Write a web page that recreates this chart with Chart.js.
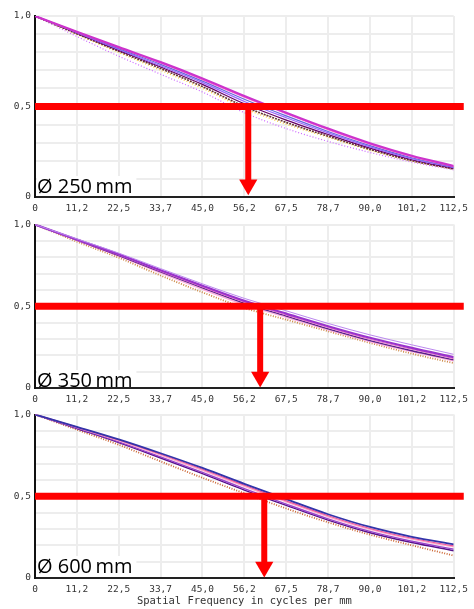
<!DOCTYPE html>
<html lang="en">
<head>
<meta charset="UTF-8">
<title>MTF by mirror diameter</title>
<script src="https://cdn.jsdelivr.net/npm/chart.js"></script>
<style>
    body { margin: 0; background: #fff; }
    .panel { position: absolute; left: 0; width: 474px; }
</style>
</head>
<body>
<div class="panel" style="top:0;height:214px"><canvas id="c250"></canvas></div>
<div class="panel" style="top:214px;height:190px"><canvas id="c350"></canvas></div>
<div class="panel" style="top:404px;height:205px"><canvas id="c600"></canvas></div>
<script>
// spatial frequency (cycles/mm) at the grid lines
var freqs = [0, 11.25, 22.5, 33.75, 45, 56.25, 67.5, 78.75, 90, 101.25, 112.5];
var xTickLabels = ['0', '11,2', '22,5', '33,7', '45,0', '56,2', '67,5', '78,7', '90,0', '101,2', '112,5'];
var yGrid = [0, 0.1, 0.2, 0.3, 0.4, 0.5, 0.6, 0.7, 0.8, 0.9, 1];
var yTickLabels = { '0': '0', '0.5': '0,5', '1': '1,0' };

// MTF, one array per field position
var mtf250 = [
    [1, 0.913, 0.828, 0.745, 0.655, 0.558, 0.466, 0.378, 0.297, 0.228, 0.171],
    [1, 0.912, 0.825, 0.740, 0.648, 0.552, 0.460, 0.372, 0.292, 0.223, 0.168],
    [1, 0.910, 0.820, 0.733, 0.640, 0.540, 0.448, 0.362, 0.284, 0.217, 0.165],
    [1, 0.908, 0.815, 0.725, 0.632, 0.528, 0.438, 0.354, 0.277, 0.212, 0.162],
    [1, 0.905, 0.810, 0.718, 0.622, 0.515, 0.425, 0.345, 0.270, 0.206, 0.158],
    [1, 0.902, 0.805, 0.710, 0.610, 0.500, 0.412, 0.336, 0.263, 0.201, 0.155],
    [1, 0.898, 0.798, 0.700, 0.600, 0.490, 0.402, 0.330, 0.258, 0.198, 0.153],
    [1, 0.887, 0.778, 0.678, 0.580, 0.466, 0.378, 0.307, 0.246, 0.193, 0.150]
];
var mtf350 = [
    [1, 0.912, 0.825, 0.730, 0.637, 0.548, 0.472, 0.395, 0.325, 0.264, 0.206],
    [1, 0.908, 0.818, 0.720, 0.625, 0.533, 0.455, 0.378, 0.307, 0.245, 0.188],
    [1, 0.906, 0.814, 0.715, 0.618, 0.526, 0.447, 0.370, 0.298, 0.237, 0.180],
    [1, 0.904, 0.810, 0.710, 0.612, 0.518, 0.440, 0.362, 0.290, 0.228, 0.172],
    [1, 0.902, 0.806, 0.703, 0.603, 0.510, 0.432, 0.355, 0.284, 0.222, 0.166],
    [1, 0.895, 0.797, 0.688, 0.585, 0.490, 0.418, 0.347, 0.276, 0.210, 0.152]
];
var mtf600 = [
    [1, 0.925, 0.848, 0.763, 0.673, 0.576, 0.482, 0.390, 0.312, 0.252, 0.206],
    [1, 0.923, 0.844, 0.757, 0.665, 0.567, 0.472, 0.381, 0.303, 0.243, 0.196],
    [1, 0.921, 0.840, 0.751, 0.658, 0.560, 0.465, 0.374, 0.297, 0.237, 0.190],
    [1, 0.917, 0.833, 0.741, 0.646, 0.547, 0.452, 0.362, 0.285, 0.225, 0.176],
    [1, 0.914, 0.828, 0.734, 0.638, 0.538, 0.444, 0.354, 0.277, 0.217, 0.167],
    [1, 0.907, 0.815, 0.713, 0.613, 0.518, 0.425, 0.340, 0.265, 0.200, 0.137]
];

// where the curves cross MTF 0.5 (red arrow)
var crossFreq = { c250: 57.3, c350: 60.5, c600: 61.6 };
var diameterLabels = { c250: 'Ø 250\u2009mm', c350: 'Ø 350\u2009mm', c600: 'Ø 600\u2009mm' };

var styles250 = [
    { color: '#cc33cc', width: 2.2 },
    { color: '#ff66cc', width: 1.2 },
    { color: '#6666dd', width: 1.2 },
    { color: '#9966ff', width: 1.2 },
    { color: '#660066', width: 1.2 },
    { color: '#663333', width: 1.6, dash: [2, 1] },
    { color: '#ffcc33', width: 1.2, dash: [1, 2] },
    { color: '#cc66ff', width: 1.2, dash: [1, 2] }
];
var styles350 = [
    { color: '#bb88ee', width: 1 },
    { color: '#9933cc', width: 2.2 },
    { color: '#ee77cc', width: 1.2 },
    { color: '#552288', width: 1.4 },
    { color: '#ffaadd', width: 1.2 },
    { color: '#cc8844', width: 1.8, dash: [1, 1.5] }
];
var styles600 = [
    { color: '#3333aa', width: 1.8 },
    { color: '#ee5599', width: 1.2 },
    { color: '#ffaacc', width: 1.2 },
    { color: '#9944cc', width: 1.4 },
    { color: '#551188', width: 1.4 },
    { color: '#cc6633', width: 1.8, dash: [1, 1.5] }
];

var labelPlugin = {
    id: 'diameterLabel',
    afterDraw: function (chart) {
        var ctx = chart.ctx, a = chart.chartArea;
        var txt = diameterLabels[chart.canvas.id];
        var lift = chart.options.plugins.diameterLabel.lift;
        ctx.save();
        ctx.font = '20px "Open Sans"';
        var w = ctx.measureText(txt).width;
        ctx.fillStyle = '#fff';
        ctx.fillRect(a.left + 2, a.bottom - lift - 17, w + 4, lift + 16);
        ctx.fillStyle = '#000';
        ctx.textBaseline = 'alphabetic';
        ctx.fillText(txt, a.left + 2, a.bottom - lift);
        ctx.restore();
    }
};

function makeChart(id, series, styles, padTop, axisH, showTitle, lift) {
    var datasets = [
        {   // 0.5 level
            data: [{ x: 0, y: 0.5 }, { x: 115.2, y: 0.5 }],
            borderColor: '#ff0000', borderWidth: 7, pointRadius: 0, clip: false
        },
        {   // arrow down to the axis
            data: [{ x: crossFreq[id], y: 0.5 }, { x: crossFreq[id], y: 0.068 }],
            borderColor: '#ff0000', borderWidth: 6,
            pointRadius: [0, 10.5], pointStyle: 'triangle', pointRotation: 180,
            pointBackgroundColor: '#ff0000', pointBorderWidth: 0, clip: false
        }
    ];
    series.forEach(function (vals, i) {
        var s = styles[i];
        datasets.push({
            data: vals.map(function (v, k) { return { x: freqs[k], y: v }; }),
            borderColor: s.color,
            borderWidth: s.width,
            borderDash: s.dash || [],
            pointRadius: 0,
            cubicInterpolationMode: 'monotone'
        });
    });

    new Chart(document.getElementById(id), {
        type: 'line',
        data: { datasets: datasets },
        plugins: [labelPlugin],
        options: {
            responsive: true,
            maintainAspectRatio: false,
            animation: false,
            layout: { padding: { top: padTop, right: 17, left: 0, bottom: 0 } },
            plugins: {
                legend: { display: false },
                tooltip: { enabled: false },
                diameterLabel: { lift: lift }
            },
            scales: {
                x: {
                    type: 'linear', min: 0, max: 112.5,
                    afterBuildTicks: function (s) { s.ticks = freqs.map(function (v) { return { value: v }; }); },
                    afterFit: function (s) { s.height = axisH; },
                    ticks: {
                        autoSkip: false, maxRotation: 0, padding: 6, color: '#333',
                        font: { family: '"DejaVu Sans Mono"', size: 9.5 },
                        callback: function (v, i) { return xTickLabels[i]; }
                    },
                    grid: { color: '#ededed', lineWidth: 2, drawTicks: false },
                    border: { color: '#222', width: 2 },
                    title: {
                        display: showTitle,
                        text: 'Spatial Frequency in cycles per mm',
                        color: '#333',
                        font: { family: '"DejaVu Sans Mono"', size: 10.5 },
                        padding: { top: 0, bottom: 1 }
                    }
                },
                y: {
                    min: 0, max: 1,
                    afterBuildTicks: function (s) { s.ticks = yGrid.map(function (v) { return { value: v }; }); },
                    afterFit: function (s) { s.width = 35; },
                    ticks: {
                        padding: 4, color: '#333',
                        font: { family: '"DejaVu Sans Mono"', size: 9.5 },
                        callback: function (v) {
                            var key = String(Math.round(v * 10) / 10);
                            return yTickLabels[key] || '';
                        }
                    },
                    grid: { color: '#ededed', lineWidth: 2, drawTicks: false },
                    border: { color: '#111', width: 2 }
                }
            }
        }
    });
}

makeChart('c250', mtf250, styles250, 16, 17, false, 4);
makeChart('c350', mtf350, styles350, 6, 16, false, 1);
makeChart('c600', mtf600, styles600, 6, 31, true, 5);
</script>
</body>
</html>
